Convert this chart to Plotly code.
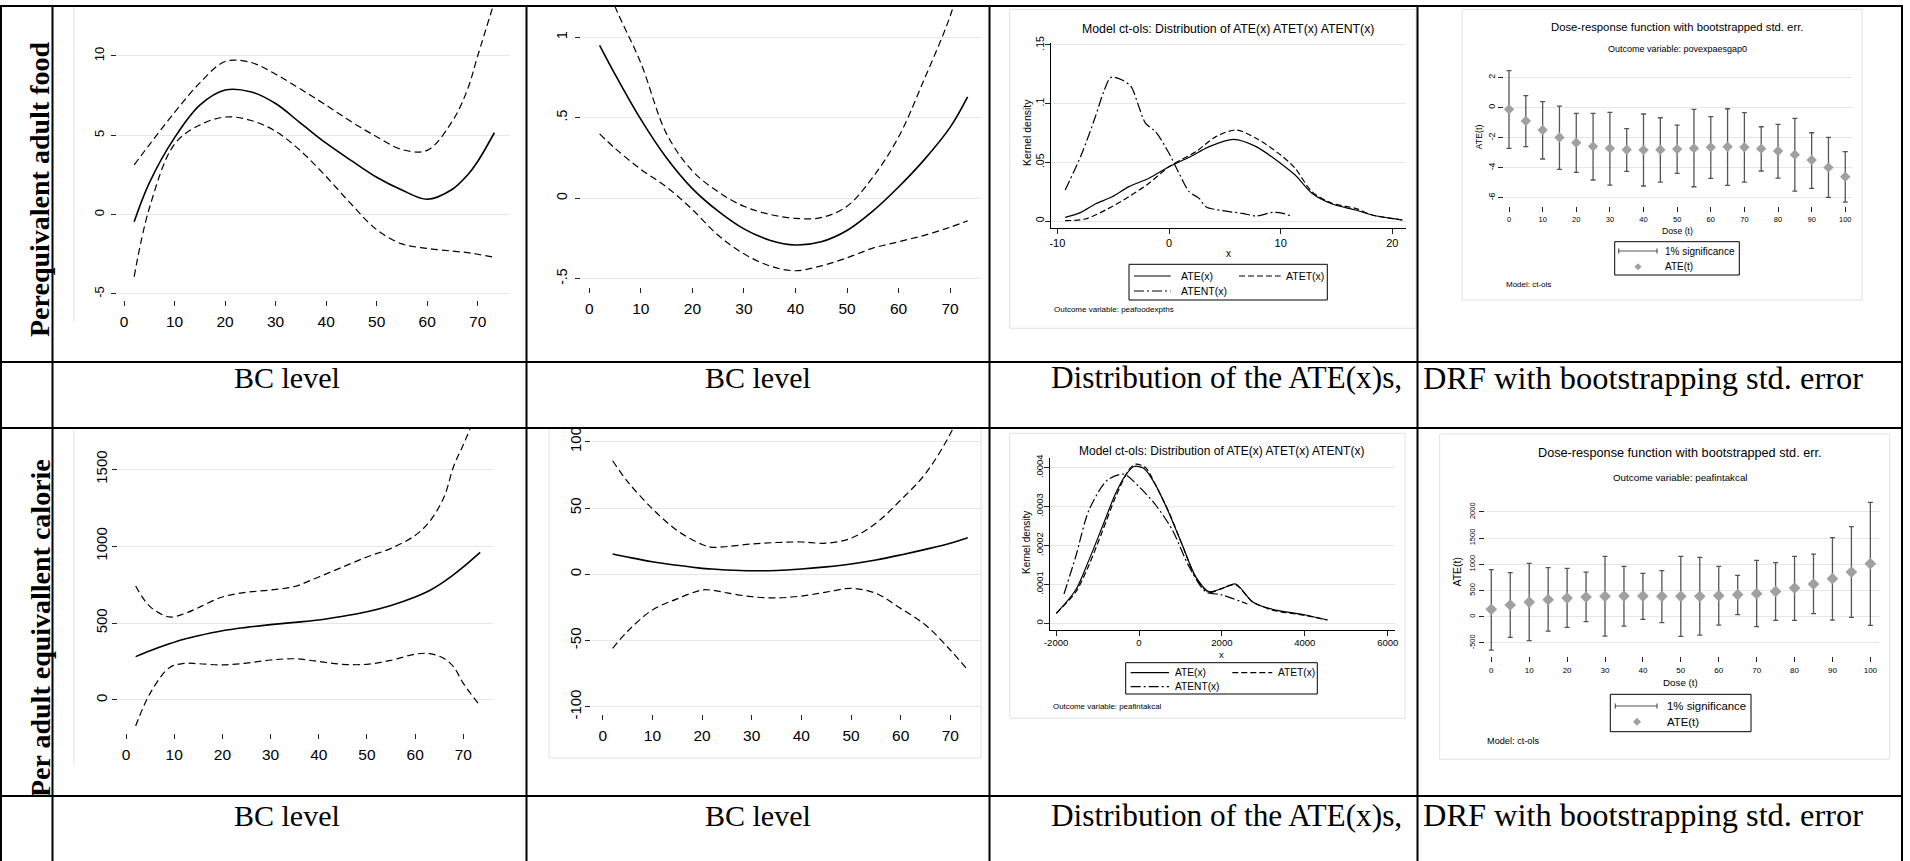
import plotly.graph_objects as go

W, H = 1910, 861


def X(p):
    return p / W


def Y(p):
    return 1 - p / H


SERIF = "Liberation Serif, Times New Roman, serif"
SANS = "Liberation Sans, Arial, Helvetica, sans-serif"
GRID = "#e6e6e6"
BOX = "#e2e2e2"

# ---------------- data ----------------
# Panel 1: Perequivalent adult food vs BC level (fit and confidence band)
bc_food = [2, 5, 10, 15, 20, 25, 30, 35, 40, 45, 50, 55, 60, 65, 68, 70, 73.3]
food_fit = [-0.45, 2.0, 4.85, 6.9, 7.85, 7.75, 7.0, 5.75, 4.5, 3.4, 2.35, 1.55, 0.97, 1.6, 2.5, 3.35, 5.16]
food_hi = [3.13, 4.4, 6.45, 8.3, 9.65, 9.6, 8.85, 7.9, 6.9, 5.85, 4.91, 4.1, 4.05, 5.9, 7.9, 10.0, 13.4]
food_lo = [-3.91, 0.4, 4.45, 5.65, 6.15, 5.95, 5.25, 4.0, 2.4, 0.65, -0.95, -1.85, -2.13, -2.3, -2.4, -2.5, -2.69]

# Panel 2: second food outcome vs BC level
bc_food2 = [2, 5, 10, 15, 20, 25, 30, 35, 40, 45, 50, 55, 60, 65, 70, 73.4]
food2_fit = [0.95, 0.77, 0.49, 0.25, 0.06, -0.08, -0.19, -0.26, -0.29, -0.27, -0.2, -0.08, 0.07, 0.24, 0.44, 0.63]
food2_hi = [1.45, 1.19, 0.84, 0.4, 0.17, 0.04, -0.05, -0.1, -0.125, -0.12, -0.05, 0.13, 0.38, 0.74, 1.13, 1.5]
food2_lo = [0.40, 0.31, 0.18, 0.07, -0.07, -0.23, -0.345, -0.42, -0.45, -0.42, -0.37, -0.31, -0.27, -0.23, -0.18, -0.14]

# Panel 5: Per adult equivalent calorie vs BC level
bc_cal = [2, 5, 9, 12, 15, 20, 25, 30, 35, 40, 45, 50, 55, 60, 63, 66, 68, 70, 73.5]
cal_fit = [282, 320, 365, 395, 418, 450, 472, 490, 505, 520, 545, 574, 615, 670, 712, 770, 815, 865, 960]
cal_hi = [741, 607, 540, 560, 600, 670, 700, 715, 738, 800, 865, 930, 986, 1070, 1160, 1320, 1520, 1660, 1920]
cal_lo = [-169, 43, 210, 238, 236, 228, 240, 260, 268, 250, 232, 232, 258, 298, 302, 270, 215, 108, -39]

# Panel 6: second calorie outcome vs BC level
bc_cal2 = [2, 5, 10, 15, 20, 22, 25, 30, 35, 40, 45, 50, 55, 60, 65, 70, 73.5]
cal2_fit = [15.3, 13, 9.5, 6.8, 4.5, 4.0, 3.3, 2.7, 2.9, 4.0, 5.6, 7.8, 10.8, 14.6, 18.8, 23.4, 27.6]
cal2_hi = [85.7, 70, 49.5, 33, 22.5, 20.4, 21, 22.9, 24.0, 24.4, 23.5, 27.2, 38.5, 56, 76, 106, 135]
cal2_lo = [-55.8, -43, -26.9, -18.5, -11.8, -12, -14, -16.9, -17.8, -16.4, -13.5, -10.6, -14.3, -25.7, -38.3, -57.1, -72.2]

# Panel 3: kernel densities (peafoodexpths)
ate_food_x = [-9.3, -7.9, -6.6, -5.1, -3.6, -1.8, 0, 1.8, 3.6, 5.8, 7.8, 10, 11.3, 12.8, 14.6, 16.7, 18.2, 20.9]
ate_food_y = [0.0031, 0.0074, 0.0145, 0.0207, 0.0293, 0.0364, 0.0463, 0.0543, 0.0634, 0.0696, 0.0634, 0.0491,
              0.0392, 0.0236, 0.0145, 0.0094, 0.0051, 0.0009]
atet_food_x = [-9.3, -7.5, -5.4, -3.6, -1.8, 0, 2.4, 4.2, 6.0, 7.8, 10, 11.3, 12.8, 14.6, 16.7, 18.2, 20.9]
atet_food_y = [0.0003, 0.0017, 0.0108, 0.0207, 0.0321, 0.0463, 0.0591, 0.0719, 0.0776, 0.0705, 0.0563, 0.0449,
               0.025, 0.0151, 0.0108, 0.0051, 0.0009]
atent_food_x = [-9.3, -7.8, -6.6, -5.8, -5.2, -4.2, -3.4, -2.7, -2.1, -1.2, 0, 0.9, 1.8, 2.7, 3.3, 4.8, 6.6, 7.8,
                9.3, 10.2, 10.9]
atent_food_y = [0.0264, 0.0577, 0.0889, 0.1116, 0.1224, 0.1202, 0.1145, 0.0974, 0.0832, 0.0761, 0.0577, 0.0406,
                0.025, 0.0193, 0.0122, 0.0088, 0.0065, 0.0043, 0.0074, 0.0065, 0.0043]

# Panel 7: kernel densities (peafintakcal)
ate_cal_x = [-1994, -1528, -1206, -885, -563, -322, -121, 121, 402, 724, 1045, 1367, 1688, 2010, 2332, 2734, 3217,
             4021, 4544]
ate_cal_y = [0.0000257, 0.0000857, 0.000163, 0.000248, 0.000334, 0.000381, 0.000403, 0.000398, 0.000355, 0.000283,
             0.000201, 0.00012, 0.0000814, 0.0000899, 0.000101, 0.0000557, 0.000036, 0.0000214, 0.0000086]
atet_cal_x = [-1994, -1528, -1206, -885, -563, -241, -80, 161, 402, 724, 1045, 1367, 1688, 2010, 2332, 2734, 3217,
              4021, 4544]
atet_cal_y = [0.0000257, 0.000080, 0.00015, 0.000236, 0.000325, 0.000395, 0.000409, 0.000400, 0.000355, 0.000285,
              0.000201, 0.000118, 0.000080, 0.0000899, 0.000099, 0.0000557, 0.000034, 0.000020, 0.0000086]
atent_cal_x = [-1809, -1528, -1206, -764, -362, 0, 402, 804, 1206, 1608, 2010, 2613]
atent_cal_y = [0.0000754, 0.000171, 0.000291, 0.000368, 0.000383, 0.000351, 0.000304, 0.00024, 0.000146,
               0.0000814, 0.0000728, 0.0000497]

# Panel 4: dose-response (povexpaesgap0)
dose = [0, 5, 10, 15, 20, 25, 30, 35, 40, 45, 50, 55, 60, 65, 70, 75, 80, 85, 90, 95, 100]
ate_pov = [-0.11, -0.89, -1.49, -1.98, -2.33, -2.58, -2.71, -2.8, -2.82, -2.8, -2.76, -2.71, -2.64, -2.6, -2.64,
           -2.73, -2.89, -3.13, -3.49, -3.98, -4.6]
ate_pov_hi = [2.47, 0.8, 0.4, 0.11, -0.38, -0.38, -0.31, -1.4, -0.42, -0.67, -1.16, -0.11, -0.6, -0.07, -0.33,
              -1.27, -1.11, -0.71, -1.67, -1.98, -2.93]
ate_pov_lo = [-2.71, -2.6, -3.42, -4.11, -4.31, -4.82, -5.16, -4.24, -5.22, -4.96, -4.38, -5.27, -4.71, -5.18, -4.96,
              -4.22, -4.69, -5.56, -5.38, -5.98, -6.29]

# Panel 8: dose-response (peafintakcal)
ate_kcal = [140, 223, 280, 324, 356, 375, 388, 394, 394, 388, 388, 388, 401, 420, 439, 483, 547, 623, 725, 852, 1011]
ate_kcal_hi = [897, 840, 1018, 935, 922, 852, 1151, 961, 827, 878, 1151, 1132, 961, 789, 1075, 1031, 1151, 1196,
               1508, 1718, 2182]
ate_kcal_lo = [-636, -394, -458, -274, -204, -95, -369, -178, -51, -115, -375, -350, -159, 38, -191, -70, -70, 57,
               -64, -13, -165]

bc_ticks = [0, 10, 20, 30, 40, 50, 60, 70]
dose_ticks = [0, 10, 20, 30, 40, 50, 60, 70, 80, 90, 100]

fig = go.Figure()
layout = {}


def axes(n, left, right, top, bottom, xr, yr, xtv, ytv, ytt, xfs, yfs, xstand=0, ystand=0,
         showline=False, xtt=None):
    sx = "xaxis" if n == 1 else f"xaxis{n}"
    sy = "yaxis" if n == 1 else f"yaxis{n}"
    xa = "x" if n == 1 else f"x{n}"
    ya = "y" if n == 1 else f"y{n}"
    layout[sx] = dict(domain=[X(left), X(right)], range=xr, anchor=ya, tickmode="array", tickvals=xtv,
                      ticktext=xtt if xtt else [str(v) for v in xtv],
                      ticks="outside", ticklen=5, tickwidth=1, tickcolor="#222", showgrid=False,
                      zeroline=False, showline=showline, linecolor="black", linewidth=1,
                      tickfont=dict(family=SANS, size=xfs, color="black"), ticklabelstandoff=xstand,
                      fixedrange=True, automargin=False)
    layout[sy] = dict(domain=[Y(bottom), Y(top)], range=yr, anchor=xa, tickmode="array", tickvals=ytv,
                      ticktext=ytt, tickangle=-90, ticks="outside", ticklen=5, tickwidth=1, tickcolor="#222",
                      showgrid=True, gridcolor=GRID, gridwidth=1, zeroline=False, showline=showline,
                      linecolor="black", linewidth=1,
                      tickfont=dict(family=SANS, size=yfs, color="black"), ticklabelstandoff=ystand,
                      fixedrange=True, automargin=False)
    return xa, ya


def curve(x, y, ax, dash="solid", width=1.5, smooth=1.0):
    fig.add_trace(go.Scatter(x=x, y=y, mode="lines", xaxis=ax[0], yaxis=ax[1], showlegend=False,
                             hoverinfo="skip",
                             line=dict(color="black", width=width, dash=dash, shape="spline",
                                       smoothing=smooth)))


DASH = "7px,4px"
ATET_DASH = "6px,3px"
ATENT_DASH = "10px,3px,2px,3px"

# Panel 1
a1 = axes(1, 117, 510, 6, 300, [-1.4, 76.4], [-5.385, 13.15], bc_ticks, [-5, 0, 5, 10],
          ["-5", "0", "5", "10"], 15.5, 13, 2, 2)
curve(bc_food, food_hi, a1, DASH, 1.2)
curve(bc_food, food_lo, a1, DASH, 1.2)
curve(bc_food, food_fit, a1, "solid", 1.6)

# Panel 2
a2 = axes(2, 581, 981, 6, 287, [-1.61, 76.0], [-0.551, 1.194], bc_ticks, [-0.5, 0, 0.5, 1],
          ["-.5", "0", ".5", "1"], 15.5, 14, 2, 2)
curve(bc_food2, food2_hi, a2, DASH, 1.2)
curve(bc_food2, food2_lo, a2, DASH, 1.2)
curve(bc_food2, food2_fit, a2, "solid", 1.6)

# Panel 5
a5 = axes(5, 118, 493, 428, 733, [-1.66, 76.16], [-214.6, 1768.5], bc_ticks, [0, 500, 1000, 1500],
          ["0", "500", "1000", "1500"], 15.5, 15, 2, -1)
curve(bc_cal, cal_hi, a5, DASH, 1.2)
curve(bc_cal, cal_lo, a5, DASH, 1.2)
curve(bc_cal, cal_fit, a5, "solid", 1.6)

# Panel 6
a6 = axes(6, 591, 981, 428, 714, [-2.36, 76.18], [-105.4, 110.4], bc_ticks, [-100, -50, 0, 50, 100],
          ["-100", "-50", "0", "50", "100"], 15.5, 15, 2, -2)
curve(bc_cal2, cal2_hi, a6, DASH, 1.2)
curve(bc_cal2, cal2_lo, a6, DASH, 1.2)
curve(bc_cal2, cal2_fit, a6, "solid", 1.6)

# Panel 3
a3 = axes(3, 1050.7, 1405.7, 43, 228.3, [-10.6, 21.2], [-0.0062, 0.1517], [-10, 0, 10, 20],
          [0, 0.05, 0.1, 0.15], ["0", ".05", ".1", ".15"], 11, 10.5, -1, -3, showline=True)
curve(ate_food_x, ate_food_y, a3, "solid", 1.2, 0.8)
curve(atet_food_x, atet_food_y, a3, ATET_DASH, 1.2, 0.8)
curve(atent_food_x, atent_food_y, a3, ATENT_DASH, 1.2, 0.8)

# Panel 7
a7 = axes(7, 1050, 1395, 458.3, 630, [-2147, 6176], [-0.0000172, 0.000424], [-2000, 0, 2000, 4000, 6000],
          [0, 0.0001, 0.0002, 0.0003, 0.0004], ["0", ".0001", ".0002", ".0003", ".0004"], 9.5, 9.5, -1, -3,
          showline=True)
curve(ate_cal_x, ate_cal_y, a7, "solid", 1.2, 0.8)
curve(atet_cal_x, atet_cal_y, a7, ATET_DASH, 1.2, 0.8)
curve(atent_cal_x, atent_cal_y, a7, ATENT_DASH, 1.2, 0.8)

# Panel 4
a4 = axes(4, 1504.3, 1852, 68.3, 206, [-1.4, 102], [-6.553, 2.627], dose_ticks, [-6, -4, -2, 0, 2],
          ["-6", "-4", "-2", "0", "2"], 7.5, 9, 1, 0)


def drf(ate, hi, lo, ax, msize):
    fig.add_trace(go.Scatter(x=dose, y=ate, mode="markers", xaxis=ax[0], yaxis=ax[1], showlegend=False,
                             hoverinfo="skip", marker=dict(size=1, color="rgba(0,0,0,0)"),
                             error_y=dict(type="data", symmetric=False,
                                          array=[h - a for h, a in zip(hi, ate)],
                                          arrayminus=[a - l for a, l in zip(ate, lo)],
                                          color="#555555", thickness=1.3, width=2.5)))
    fig.add_trace(go.Scatter(x=dose, y=ate, mode="markers", xaxis=ax[0], yaxis=ax[1], showlegend=False,
                             hoverinfo="skip",
                             marker=dict(symbol="diamond", size=msize, color="#a0a0a0")))


drf(ate_pov, ate_pov_hi, ate_pov_lo, a4, 8)

# Panel 8
a8 = axes(8, 1485.3, 1878.7, 500, 656, [-1.58, 102.2], [-750, 2227], dose_ticks,
          [-500, 0, 500, 1000, 1500, 2000], ["-500", "0", "500", "1000", "1500", "2000"], 8, 7.5, 1, 1)
drf(ate_kcal, ate_kcal_hi, ate_kcal_lo, a8, 9)

# ---------------- decorations ----------------
shapes = []
ann = []


def hline(x0, x1, y, color="black", width=2, dash="solid"):
    shapes.append(dict(type="line", xref="paper", yref="paper", x0=X(x0), x1=X(x1), y0=Y(y), y1=Y(y),
                       line=dict(color=color, width=width, dash=dash), layer="above"))


def vline(x, y0, y1, color="black", width=2, layer="above"):
    shapes.append(dict(type="line", xref="paper", yref="paper", x0=X(x), x1=X(x), y0=Y(y0), y1=Y(y1),
                       line=dict(color=color, width=width), layer=layer))


def rect(x0, y0, x1, y1, color, width=1, layer="below"):
    shapes.append(dict(type="rect", xref="paper", yref="paper", x0=X(x0), x1=X(x1), y0=Y(y0), y1=Y(y1),
                       line=dict(color=color, width=width), fillcolor="rgba(0,0,0,0)", layer=layer))


def text(x, y, s, size, family=SANS, xanchor="center", angle=0, weight="normal", color="black"):
    ann.append(dict(xref="paper", yref="paper", x=X(x), y=Y(y), text=s, showarrow=False, xanchor=xanchor,
                    yanchor="middle", textangle=angle,
                    font=dict(family=family, size=size, color=color, weight=weight)))


# Stata graph-region outlines
vline(74, 6, 323, BOX, 1, "below")
vline(74, 428, 765, BOX, 1, "below")
rect(549, 428, 981, 758, BOX)
rect(1009.7, 9.3, 1416, 328.3, BOX)
rect(1462, 9.3, 1862, 300, BOX)
rect(1009.7, 433.3, 1405, 718.3, BOX)
rect(1439.7, 434, 1889.7, 759.3, BOX)

# table grid
for yy in [6, 362, 428, 796]:
    hline(0, 1903, yy)
for xx in [1, 52.5, 526.5, 989.5, 1417.5, 1902]:
    vline(xx, 5, 861)

# row labels and captions
text(40, 190, "Perequivalent adult food", 28, SERIF, angle=-90, weight="bold")
text(40, 628, "Per adult equivallent calorie", 28, SERIF, angle=-90, weight="bold")
for yy in [378, 815]:
    text(287, yy, "BC level", 30, SERIF)
    text(758, yy, "BC level", 30, SERIF)
    text(1226, yy, "Distribution of the ATE(x)s,", 31.3, SERIF)
    text(1643, yy, "DRF with bootstrapping std. error", 32.4, SERIF)

# Panel 3 texts and legend
text(1228, 29, "Model ct-ols: Distribution of ATE(x) ATET(x) ATENT(x)", 12.3)
text(1027, 133, "Kernel density", 10.5, angle=-90)
text(1228, 253.5, "x", 10)
rect(1129, 264.3, 1327.3, 300, "black", 1, "above")
hline(1134, 1170.7, 276, "black", 1.2)
hline(1239, 1280.7, 276, "black", 1.2, ATET_DASH)
hline(1134, 1170.7, 291, "black", 1.2, ATENT_DASH)
text(1179, 276, "ATE(x)", 10.5, xanchor="left")
text(1284, 276, "ATET(x)", 10.5, xanchor="left")
text(1179, 291, "ATENT(x)", 10.5, xanchor="left")
text(1052.3, 310, "Outcome variable: peafoodexpths", 8, xanchor="left")

# Panel 7 texts and legend
text(1221.7, 450.7, "Model ct-ols: Distribution of ATE(x) ATET(x) ATENT(x)", 12)
text(1026, 543, "Kernel density", 10, angle=-90)
text(1221.7, 654.5, "x", 9.5)
rect(1125.7, 662.7, 1317.3, 694, "black", 1, "above")
hline(1130.7, 1169, 672.7, "black", 1.2)
hline(1232.3, 1272.3, 672.7, "black", 1.2, ATET_DASH)
hline(1130.7, 1169, 686.7, "black", 1.2, ATENT_DASH)
text(1173.3, 672.7, "ATE(x)", 10.2, xanchor="left")
text(1275.7, 672.7, "ATET(x)", 10.2, xanchor="left")
text(1173.3, 686.7, "ATENT(x)", 10.2, xanchor="left")
text(1050.7, 706.7, "Outcome variable: peafintakcal", 7.9, xanchor="left")


def diamond(cx, cy, r, color="#a0a0a0"):
    path = (f"M {X(cx)},{Y(cy - r)} L {X(cx + r)},{Y(cy)} L {X(cx)},{Y(cy + r)} "
            f"L {X(cx - r)},{Y(cy)} Z")
    shapes.append(dict(type="path", xref="paper", yref="paper", path=path, fillcolor=color,
                       line=dict(color=color, width=0), layer="above"))


def capline(x0, x1, y, cap=2.5):
    hline(x0, x1, y, "#555555", 1.2)
    vline(x0, y - cap, y + cap, "#555555", 1.2)
    vline(x1, y - cap, y + cap, "#555555", 1.2)


# Panel 4 texts and legend
text(1677, 27.3, "Dose-response function with bootstrapped std. err.", 11.3)
text(1677, 49.3, "Outcome variable: povexpaesgap0", 9)
text(1478.7, 136.7, "ATE(t)", 8.8, angle=-90)
text(1677.3, 230.7, "Dose (t)", 8.7)
rect(1614.7, 241.7, 1739.3, 275, "black", 1, "above")
capline(1618.7, 1657, 251)
diamond(1638, 266.7, 3.5)
text(1663, 251, "1% significance", 10, xanchor="left")
text(1662.7, 266.7, "ATE(t)", 10, xanchor="left")
text(1504.3, 285, "Model: ct-ols", 8, xanchor="left")

# Panel 8 texts and legend
text(1680.3, 452.7, "Dose-response function with bootstrapped std. err.", 12.7)
text(1680.3, 477.7, "Outcome variable: peafintakcal", 9.8)
text(1457.7, 571.7, "ATE(t)", 10.4, angle=-90)
text(1680.3, 682.7, "Dose (t)", 9.8)
rect(1610.3, 694.3, 1751, 731.7, "black", 1, "above")
capline(1615.3, 1657, 706)
diamond(1637, 721.7, 4)
text(1665.3, 706, "1% significance", 11.4, xanchor="left")
text(1665.3, 721.7, "ATE(t)", 11.4, xanchor="left")
text(1485.3, 741, "Model: ct-ols", 9.2, xanchor="left")

fig.update_layout(
    width=W, height=H, margin=dict(l=0, r=0, t=0, b=0), paper_bgcolor="white", plot_bgcolor="white",
    showlegend=False, shapes=shapes, annotations=ann, hovermode=False, **layout)

fig.write_html("out.html", config={"displayModeBar": False})
